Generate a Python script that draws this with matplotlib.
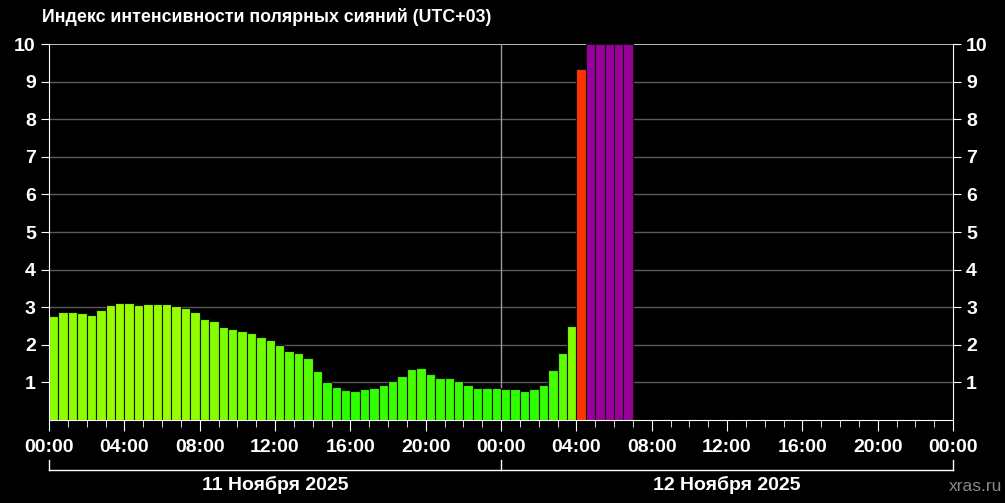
import numpy as np
import matplotlib
matplotlib.use('Agg')
import matplotlib.pyplot as plt
from matplotlib.colors import LinearSegmentedColormap
from matplotlib import transforms

# индекс по получасовым интервалам
day1 = [2.77, 2.87, 2.87, 2.84, 2.79, 2.93, 3.06, 3.11, 3.11, 3.07, 3.09, 3.09,
        3.09, 3.04, 2.98, 2.86, 2.69, 2.64, 2.48, 2.42, 2.38, 2.32, 2.22, 2.14,
        1.99, 1.83, 1.77, 1.66, 1.31, 1.02, 0.89, 0.79, 0.77, 0.82, 0.86, 0.93,
        1.05, 1.17, 1.36, 1.37, 1.23, 1.13, 1.13, 1.04, 0.92, 0.85, 0.85, 0.85]
day2 = [0.82, 0.82, 0.78, 0.83, 0.93, 1.32, 1.79, 2.51, 9.33, 10, 10, 10, 10, 10]
hour_labels = ['00:00', '04:00', '08:00', '12:00', '16:00', '20:00',
               '00:00', '04:00', '08:00', '12:00', '16:00', '20:00', '00:00']
date_labels = ['11 Ноября 2025', '12 Ноября 2025']
title = 'Индекс интенсивности полярных сияний (UTC+03)'

vals = np.array(day1 + day2)
x = np.arange(len(vals)) * 0.5

green = LinearSegmentedColormap.from_list('g', ['#2cff00', '#99ff00'])
colors = []
for v in vals:
    if v >= 9.9:
        colors.append('#990099')
    elif v >= 5:
        colors.append('#ff3300')
    else:
        colors.append(green(np.clip((v - 0.8) / 2.3, 0, 1)))

normal = ['Liberation Sans', 'DejaVu Sans']

fig = plt.figure(figsize=(10.05, 5.03), dpi=100, facecolor='black')
ax = fig.add_axes([0.0488, 0.165, 0.8995, 0.7475], facecolor='black')

for y in range(1, 10):
    ax.axhline(y, color='#5a5a5a', lw=1, zorder=0)
ax.axhline(10, color='#dddddd', lw=1.2, zorder=0)
ax.axvline(24, color='#999999', lw=1, zorder=0)

ax.bar(x, vals, width=0.5, align='edge', color=colors, edgecolor='#101010',
       linewidth=0.8, zorder=2)

ax.set_xlim(0, 48)
ax.set_ylim(0, 10)
for s in ['left', 'right', 'bottom']:
    ax.spines[s].set_color('white')
ax.spines['top'].set_visible(False)

ax.set_xticks(np.arange(0, 49, 4))
ax.set_xticklabels(hour_labels)
ax.set_xticks(np.arange(0, 49, 1), minor=True)
ax.tick_params(axis='x', which='major', colors='white', length=8, pad=6)
ax.tick_params(axis='x', which='minor', colors='white', length=5)
for lb in ax.get_xticklabels():
    lb.set_family(normal)
    lb.set_fontweight('bold')
    lb.set_fontsize(14)

ax.set_yticks(range(1, 11))
ax.tick_params(axis='y', colors='white', length=6,
               left=True, right=True, labelleft=True, labelright=True)
for t in ax.yaxis.get_major_ticks():
    for lb in (t.label1, t.label2):
        lb.set_fontweight('bold')
        lb.set_family(normal)
        lb.set_fontsize(14)

# скобка под датами
tr = transforms.blended_transform_factory(ax.transData, ax.transAxes)
ax.plot([0, 48], [-0.133, -0.133], color='white', lw=1, transform=tr, clip_on=False)
for xx in [0, 24, 48]:
    ax.plot([xx, xx], [-0.133, -0.106], color='white', lw=1, transform=tr, clip_on=False)
for i, d in enumerate(date_labels):
    ax.text(12 + 24 * i, -0.173, d, transform=tr, ha='center', va='center',
            color='white', fontsize=14, fontweight='bold', family=normal)

fig.text(0.042, 0.966, title, color='white', fontsize=12.8, fontweight='bold',
         family=normal, ha='left', va='center')
fig.text(0.997, 0.033, 'xras.ru', color='#888888', fontsize=12.5,
         family=normal, ha='right', va='center')

fig.savefig('out.png', dpi=100, facecolor='black')
